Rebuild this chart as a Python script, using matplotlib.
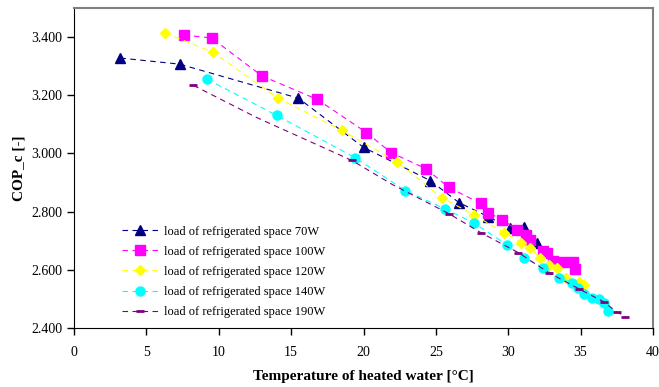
import matplotlib
matplotlib.use('Agg')
import matplotlib.pyplot as plt
import numpy as np

plt.rcParams['font.family'] = ['Liberation Serif', 'DejaVu Serif']

x70 = [3.2, 7.3, 15.5, 20.0, 24.6, 26.6, 28.6, 30.1, 31.1, 32.0]
y70 = [3.328, 3.307, 3.190, 3.021, 2.907, 2.831, 2.783, 2.745, 2.748, 2.693]

x100 = [7.6, 9.5, 13.0, 16.8, 20.2, 21.9, 24.3, 25.9, 28.1, 28.6, 29.6, 30.6,
        31.2, 31.5, 32.4, 32.7, 33.1, 33.8, 34.5, 34.6]
y100 = [3.407, 3.397, 3.266, 3.186, 3.072, 3.003, 2.948, 2.883, 2.828, 2.797,
        2.772, 2.738, 2.720, 2.703, 2.665, 2.659, 2.630, 2.628, 2.628, 2.603]

x120 = [6.3, 9.6, 14.1, 18.5, 22.3, 25.4, 27.6, 29.7, 30.9, 31.5, 32.2, 32.8,
        33.4, 34.0, 34.9, 35.2]
y120 = [3.414, 3.348, 3.190, 3.079, 2.972, 2.848, 2.790, 2.728, 2.693, 2.676,
        2.641, 2.617, 2.607, 2.572, 2.558, 2.548]

x140 = [9.2, 14.0, 19.4, 22.9, 25.6, 27.6, 29.9, 31.1, 32.4, 33.5, 34.4, 34.8,
        35.2, 35.8, 36.3, 36.6, 36.9]
y140 = [3.255, 3.131, 2.986, 2.872, 2.810, 2.762, 2.686, 2.641, 2.607, 2.572,
        2.555, 2.538, 2.517, 2.503, 2.500, 2.486, 2.459]

x190 = [8.25, 12.6, 19.2, 22.0, 25.9, 28.1, 30.7, 32.8, 34.9, 36.6, 37.5, 38.1]
y190 = [3.234, 3.124, 2.976, 2.893, 2.793, 2.728, 2.659, 2.590, 2.534, 2.490,
        2.455, 2.438]

labels = ['load of refrigerated space 70W', 'load of refrigerated space 100W',
          'load of refrigerated space 120W', 'load of refrigerated space 140W',
          'load of refrigerated space 190W']

fig = plt.figure(figsize=(6.59, 3.87), dpi=100)
ax = fig.add_axes([74/659, 1-328/387, (653-74)/659, (328-8)/387])

dash = (5, 4)
ax.plot(x70, y70, '--', dashes=dash, color='#000080', lw=0.8, marker='^', ms=7, label=labels[0])
ax.plot(x100, y100, '--', dashes=dash, color='#FF00FF', lw=0.8, marker='s', ms=7, label=labels[1])
ax.plot(x120, y120, '--', dashes=dash, color='#FFFF00', lw=0.8, marker='D', ms=5.5, label=labels[2])
ax.plot(x140, y140, '--', dashes=dash, color='#00FFFF', lw=0.8, marker='o', ms=6.5, label=labels[3])
ax.plot(x190, y190, '--', dashes=dash, color='#800080', lw=0.8, marker='_', ms=6, mew=2,
        markevery=[0, 2, 4, 5, 6, 7, 8, 9, 10, 11], label=labels[4])

ax.set_xlim(0, 40)
ax.set_ylim(2.4, 3.5)
ax.set_xticks(np.arange(0, 41, 5))
ax.set_yticks(np.arange(2.4, 3.41, 0.2))
ax.set_yticklabels(['%.3f' % v for v in np.arange(2.4, 3.41, 0.2)])
ax.tick_params(labelsize=10, length=5, width=1, direction='out')
ax.tick_params(axis='x', pad=8)

ax.spines['top'].set_color('#808080')
ax.spines['right'].set_color('#808080')
ax.spines['top'].set_linewidth(1.5)
ax.spines['right'].set_linewidth(1.5)

ax.set_xlabel('Temperature of heated water [°C]', fontsize=11, fontweight='bold', labelpad=8)
ax.set_ylabel('COP_c [-]', fontsize=11, fontweight='bold')

ax.legend(loc='lower left', bbox_to_anchor=(0.065, 0.0), frameon=False,
          fontsize=9, handlelength=3.0, handletextpad=0.4,
          labelspacing=0.65, borderpad=0.3)

plt.savefig('out.png', dpi=100)
